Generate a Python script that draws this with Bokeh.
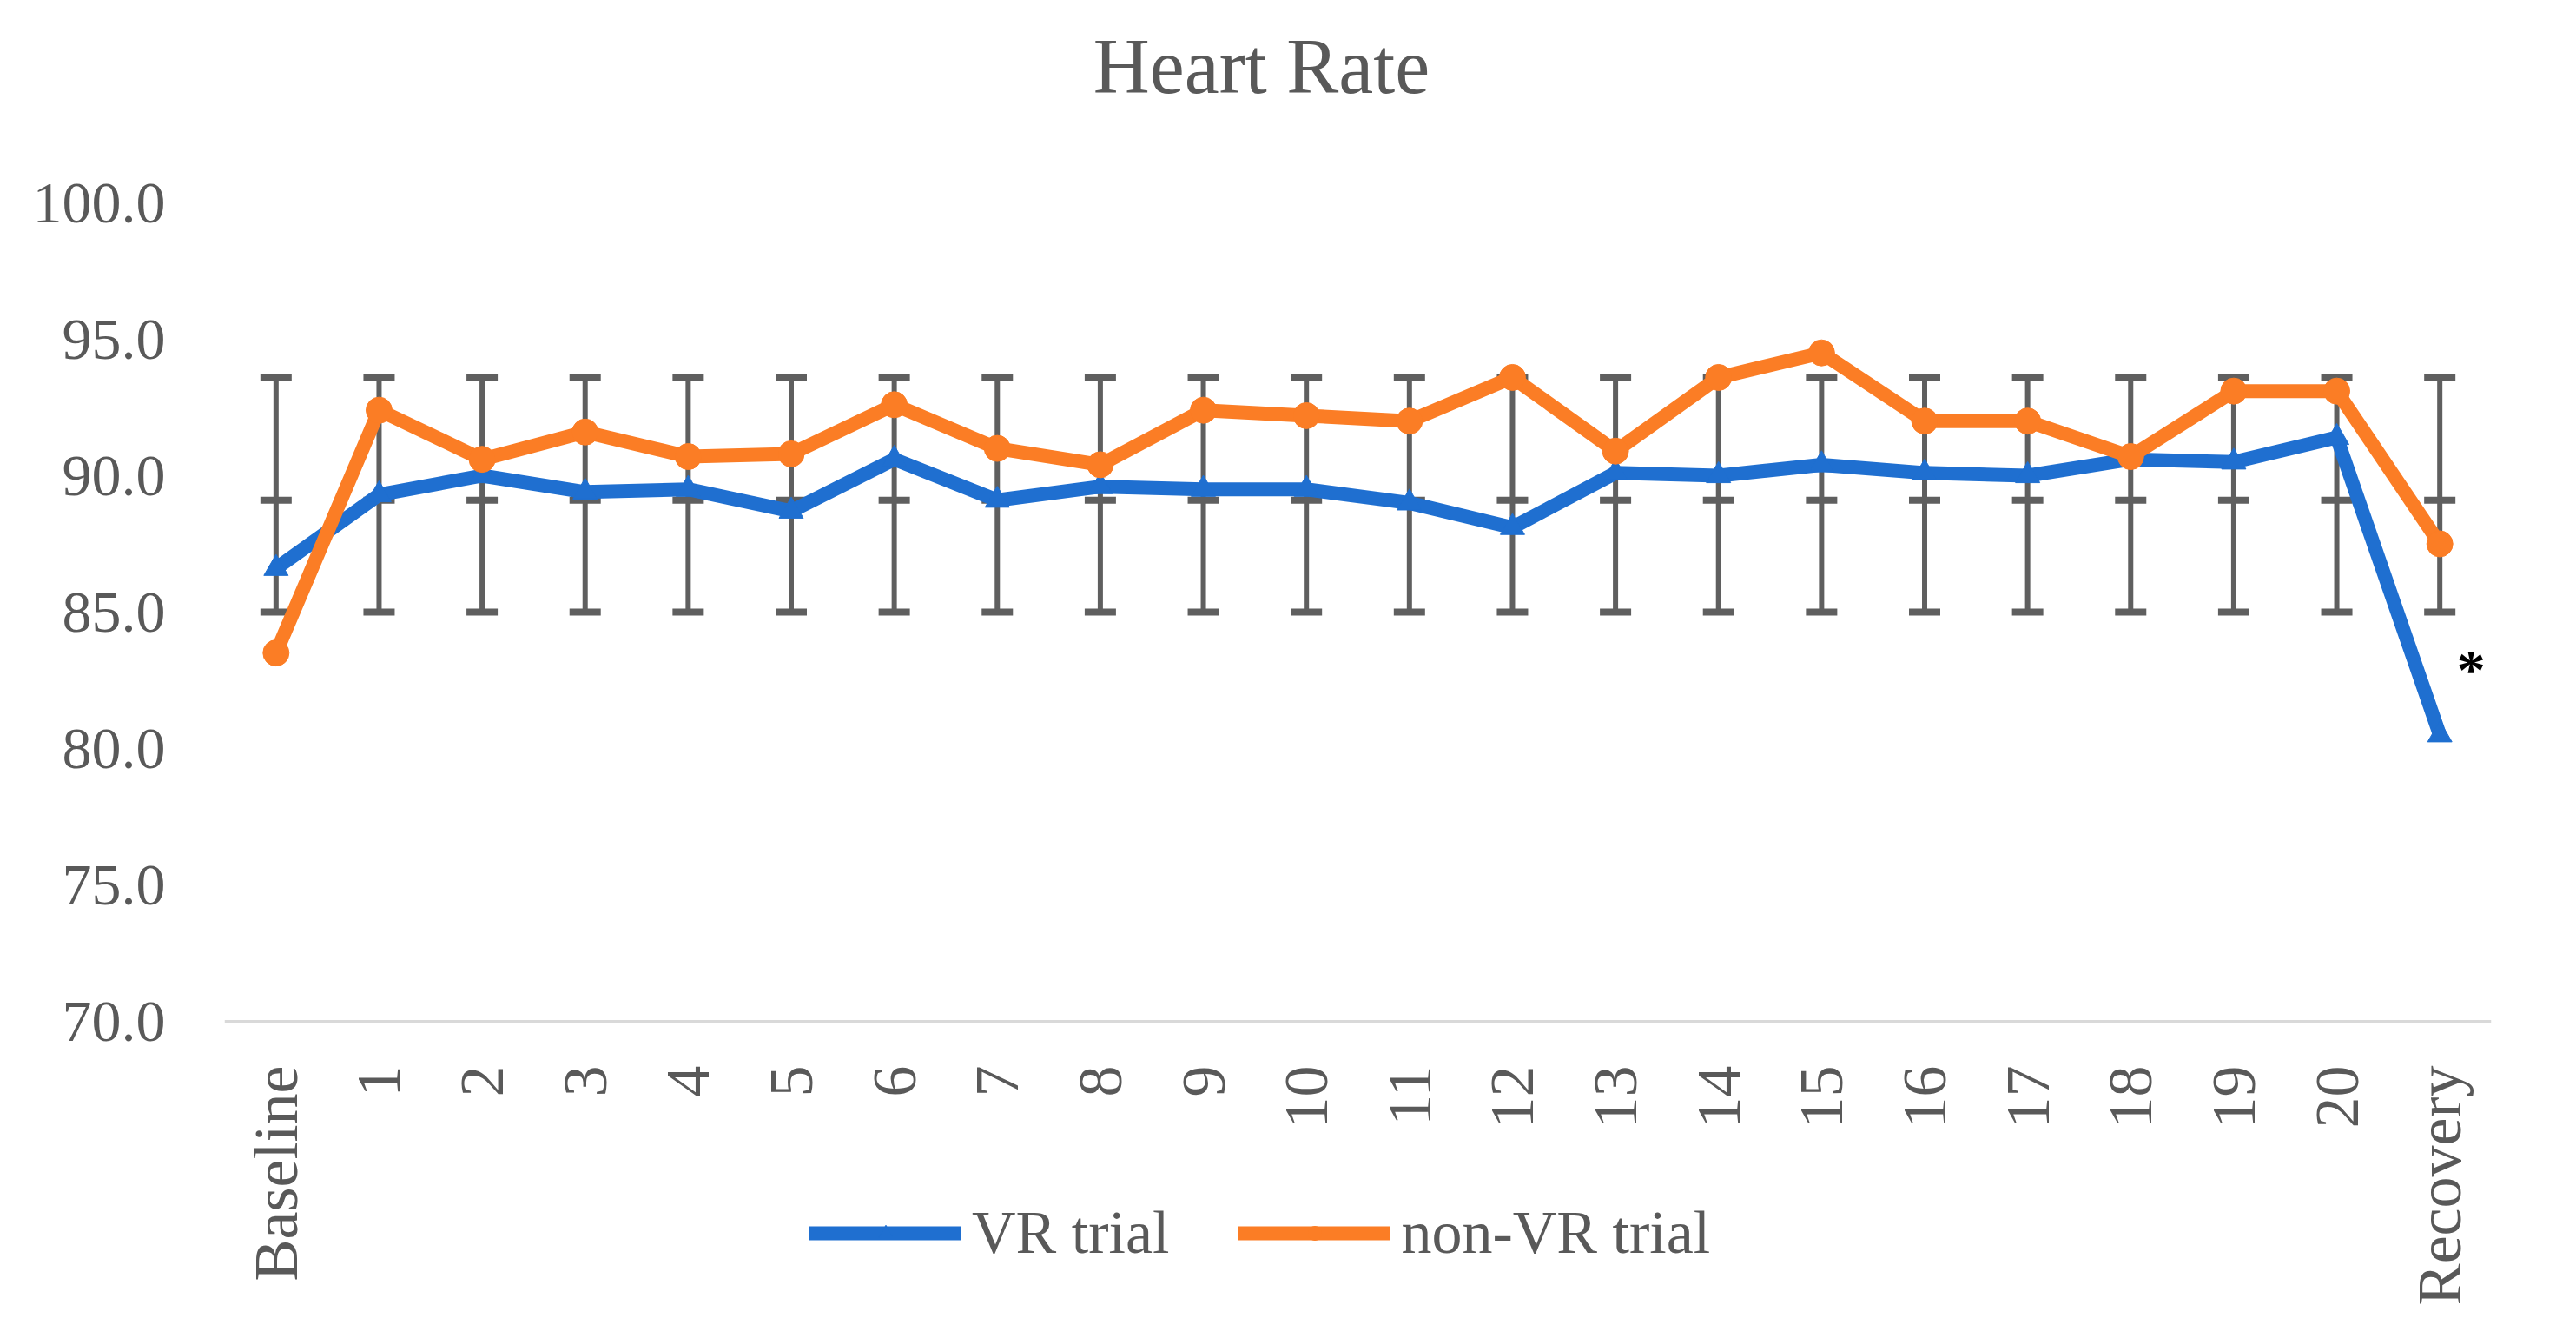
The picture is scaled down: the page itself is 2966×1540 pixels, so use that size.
import math
from bokeh.plotting import figure
from bokeh.models import FactorRange, Range1d, FixedTicker, NumeralTickFormatter, Legend, LegendItem, Label
from bokeh.embed import file_html
from bokeh.resources import INLINE
from bokeh.core.properties import value

# ---- data ----
categories = ["Baseline"] + [str(i) for i in range(1, 21)] + ["Recovery"]
vr_trial = [86.6, 89.3, 90.0, 89.4, 89.5, 88.7, 90.6, 89.1, 89.6, 89.5, 89.5,
            89.0, 88.1, 90.1, 90.0, 90.4, 90.1, 90.0, 90.6, 90.5, 91.4, 80.5]
non_vr_trial = [83.5, 92.4, 90.6, 91.6, 90.7, 90.8, 92.6, 91.0, 90.4, 92.4, 92.2,
                92.0, 93.6, 90.9, 93.6, 94.5, 92.0, 92.0, 90.7, 93.1, 93.1, 87.5]
err_center = 89.1
err_low = 85.0
err_high = 93.6
y_ticks = [70, 75, 80, 85, 90, 95, 100]
y_min, y_max = 70, 100
star_category = ["Recovery"]
star_value = [82.9]

BLUE = "#1f6fd0"
ORANGE = "#fb7d25"
GRAY = "#5f5f5f"
TEXT = "#595959"
FONT = "Liberation Serif"

# ---- layout (pixels) ----
W, H = 2950, 1524
LEFT, RIGHT = 258, 82
TOP_100 = 233      # pixel row of y=100
BOTTOM_70 = 1175   # pixel row of y=70
ppu = (BOTTOM_70 - TOP_100) / (y_max - y_min)
y_end = y_max + TOP_100 / ppu
y_start = y_min - (H - BOTTOM_70) / ppu

n = len(categories)
p = figure(x_range=FactorRange(*categories, range_padding=0),
           y_range=Range1d(y_start, y_end),
           width=W, height=H,
           output_backend="svg", toolbar_location=None,
           min_border_left=LEFT, min_border_right=RIGHT,
           min_border_top=0, min_border_bottom=0)

p.outline_line_color = None
p.xgrid.visible = False
p.ygrid.visible = False

# axes
p.xaxis.fixed_location = y_min
p.xaxis.axis_line_color = "#d9d9d9"
p.xaxis.axis_line_width = 3
p.xaxis.major_tick_line_color = None
p.xaxis.minor_tick_line_color = None
p.xaxis.major_label_orientation = math.pi / 2
p.xaxis.major_label_standoff = 45
p.xaxis.major_label_text_font = FONT
p.xaxis.major_label_text_font_size = "72px"
p.xaxis.major_label_text_color = TEXT

p.yaxis.axis_line_color = None
p.yaxis.major_tick_line_color = None
p.yaxis.minor_tick_line_color = None
p.yaxis.ticker = FixedTicker(ticks=y_ticks)
p.yaxis.formatter = NumeralTickFormatter(format="0.0")
p.yaxis.major_label_standoff = 62
p.yaxis.major_label_text_font = FONT
p.yaxis.major_label_text_font_size = "68px"
p.yaxis.major_label_text_color = TEXT

# error bars
lows = [err_low] * n
highs = [err_high] * n
mids = [err_center] * n
p.segment(x0=categories, y0=lows, x1=categories, y1=highs, line_color=GRAY, line_width=6)
p.rect(x=categories * 3, y=lows + mids + highs, width=36, height=8,
       width_units="screen", height_units="screen", fill_color=GRAY, line_color=None)

# series
l_vr = p.line(categories, vr_trial, line_color=BLUE, line_width=16, line_join="round", line_cap="round")
s_vr = p.scatter(categories, vr_trial, marker="triangle", size=28, fill_color=BLUE, line_color=BLUE)
l_nvr = p.line(categories, non_vr_trial, line_color=ORANGE, line_width=16, line_join="round", line_cap="round")
s_nvr = p.scatter(categories, non_vr_trial, marker="circle", size=30, fill_color=ORANGE, line_color=ORANGE)

# significance marker
p.text(x=star_category, y=star_value, text=["*"], x_offset=36,
       text_font=value(FONT), text_font_style="bold", text_font_size="66px",
       text_align="center", text_baseline="middle", text_color="black")

# title
title = Label(text="Heart Rate", x=1194, y=H - 76, x_units="screen", y_units="screen",
              text_align="center", text_baseline="middle",
              text_font=FONT, text_font_size="90px", text_color=TEXT)
p.add_layout(title)

legend = Legend(items=[LegendItem(label="VR trial", renderers=[l_vr, s_vr]),
                       LegendItem(label="non-VR trial", renderers=[l_nvr, s_nvr])],
                orientation="horizontal", location=(674, 65),
                padding=0, margin=0, spacing=80,
                glyph_width=175, glyph_height=40, label_standoff=12,
                label_text_font=FONT, label_text_font_size="70px", label_text_color=TEXT,
                border_line_color=None, background_fill_alpha=0)
p.add_layout(legend, "center")

open("out.html", "w").write(file_html(p, INLINE))
